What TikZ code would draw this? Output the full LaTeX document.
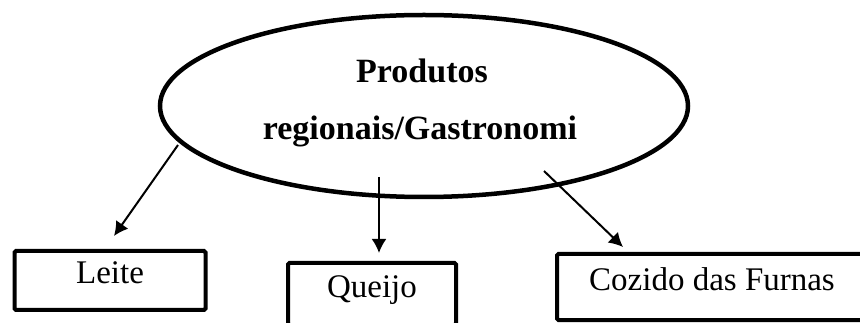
\documentclass[tikz,border=0pt]{standalone}
\usepackage{fontspec}
\setmainfont{Liberation Serif}
\usetikzlibrary{shapes.geometric,arrows.meta}
\tikzset{
  bubble/.style={ellipse, draw, line width=4.5pt, inner sep=0pt, minimum width=528pt, minimum height=182pt},
  titletext/.style={anchor=base, inner sep=0pt, font=\fontsize{34}{40}\selectfont\bfseries},
  itembox/.style={draw, line width=4pt, rounded corners=1.5pt, inner sep=0pt,
    font=\fontsize{33}{40}\selectfont, text height=0.68em, text depth=0pt},
  link/.style={line width=2pt, -{Latex[length=14pt,width=15pt]}}
}
\begin{document}
\begin{tikzpicture}[x=1pt,y=-1pt]
\useasboundingbox (0,0) rectangle (860,323);
\clip (0,0) rectangle (860,323);
\node[bubble] (ell) at (424,106) {};
\node[titletext] (t1) at (422,83) {Produtos};
\node[titletext] (t2) at (420,140) {regionais/Gastronomi};
\node[itembox, minimum width=191pt, minimum height=59pt] (leite) at (110,280.5) {Leite};
\node[itembox, minimum width=168pt, minimum height=62pt] (queijo) at (372,294) {Queijo};
\node[itembox, minimum width=310pt, minimum height=66pt] (cozido) at (712,287) {Cozido das Furnas};
\coordinate (s1) at (178,145);
\coordinate (e1) at (114,236);
\coordinate (s2) at (379,177);
\coordinate (e2) at (379,253);
\coordinate (s3) at (544,171);
\coordinate (e3) at (623,247);
\draw[link] (s1) -- (e1);
\draw[link] (s2) -- (e2);
\draw[link] (s3) -- (e3);
\end{tikzpicture}
\end{document}
